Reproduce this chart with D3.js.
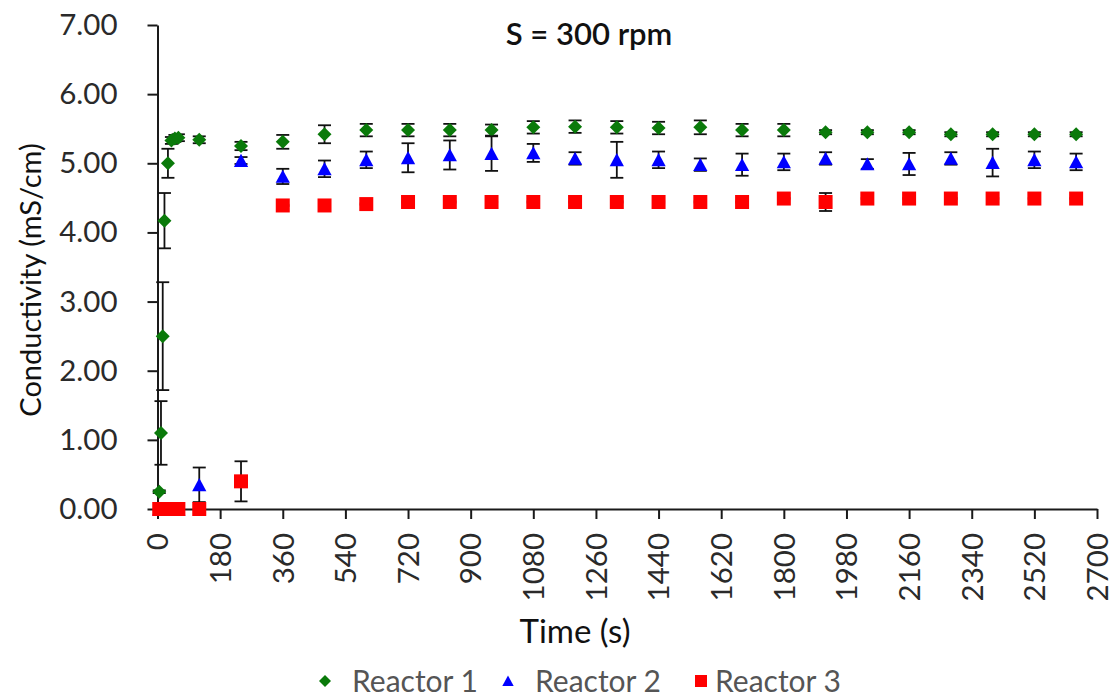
<!DOCTYPE html>
<html>
<head>
<meta charset="utf-8">
<script src="https://cdn.jsdelivr.net/npm/d3@7/dist/d3.min.js"></script>
<style>
  html, body { margin: 0; padding: 0; background: #fff; }
  svg { display: block; font-family: Lato, "Open Sans", sans-serif; }
</style>
</head>
<body>
<svg id="chart" width="1118" height="698"></svg>
<script>
// Sampling times (s)
const times = [5, 10, 15, 20, 30, 40, 50, 60, 120, 240,
  360, 480, 600, 720, 840, 960, 1080, 1200, 1320, 1440,
  1560, 1680, 1800, 1920, 2040, 2160, 2280, 2400, 2520, 2640];

// Conductivity means (mS/cm) and error half-widths per reactor
const reactor1 = [0.25, 1.10, 2.50, 4.17, 5.00, 5.33, 5.36, 5.37, 5.34, 5.25,
  5.31, 5.42, 5.48, 5.48, 5.48, 5.48, 5.52, 5.53, 5.52, 5.51,
  5.52, 5.48, 5.48, 5.45, 5.45, 5.45, 5.42, 5.42, 5.42, 5.42];
const err1 = [0.02, 0.46, 0.78, 0.40, 0.21, 0.05, 0.05, 0.05, 0.05, 0.06,
  0.10, 0.13, 0.09, 0.09, 0.09, 0.08, 0.09, 0.09, 0.09, 0.09,
  0.10, 0.09, 0.09, 0.03, 0.03, 0.03, 0.03, 0.03, 0.03, 0.03];

const reactor2 = [0, 0, 0, 0, 0, 0, 0, 0, 0.35, 5.04,
  4.81, 4.92, 5.05, 5.08, 5.12, 5.14, 5.15, 5.07, 5.05, 5.05,
  4.98, 4.98, 5.02, 5.07, 4.99, 4.99, 5.07, 5.01, 5.05, 5.02];
const err2 = [0, 0, 0, 0, 0, 0, 0, 0, 0.25, 0.05,
  0.11, 0.12, 0.12, 0.21, 0.21, 0.25, 0.13, 0.09, 0.26, 0.12,
  0.09, 0.16, 0.12, 0.09, 0.07, 0.16, 0.09, 0.20, 0.12, 0.12];

const reactor3 = [0, 0, 0, 0, 0, 0, 0, 0, 0, 0.40,
  4.39, 4.39, 4.41, 4.44, 4.44, 4.44, 4.44, 4.44, 4.44, 4.44,
  4.44, 4.44, 4.49, 4.44, 4.49, 4.49, 4.49, 4.49, 4.49, 4.49];
const err3 = [0, 0, 0, 0, 0, 0, 0, 0, 0, 0.29,
  0.01, 0.01, 0.01, 0.01, 0.01, 0.01, 0.01, 0.01, 0.01, 0.01,
  0.01, 0.01, 0.01, 0.13, 0.01, 0.01, 0.01, 0.01, 0.01, 0.01];

const seriesNames = ["Reactor 1", "Reactor 2", "Reactor 3"];
const seriesColors = ["#0a7a0a", "#0000ff", "#ff0000"];
const seriesShapes = ["diamond", "triangle", "square"];

const xTicks = d3.range(0, 2701, 180);
const yTicks = d3.range(0, 7.01, 1);

const svg = d3.select("#chart");

const x = d3.scaleLinear().domain([0, 2700]).range([157.5, 1097]);
const y = d3.scaleLinear().domain([0, 7]).range([509, 25]);

// Marker path generator centred on (cx, cy)
function markerPath(shape, cx, cy, r) {
  const p = d3.path();
  if (shape === "diamond") {
    p.moveTo(cx, cy - r); p.lineTo(cx + r, cy); p.lineTo(cx, cy + r); p.lineTo(cx - r, cy); p.closePath();
  } else if (shape === "triangle") {
    p.moveTo(cx, cy - r * 0.9); p.lineTo(cx + r * 0.95, cy + r * 0.85); p.lineTo(cx - r * 0.95, cy + r * 0.85); p.closePath();
  } else {
    p.rect(cx - r, cy - r, 2 * r, 2 * r);
  }
  return p.toString();
}

// Axes
const yAxis = d3.axisLeft(y).tickValues(yTicks).tickFormat(d3.format(".2f"))
  .tickSize(10).tickSizeOuter(0).tickPadding(30);
const gy = svg.append("g").attr("transform", `translate(${x(0)},0)`).call(yAxis);
gy.selectAll("text").attr("font-size", 29.5).attr("fill", "#2a2a2a").attr("font-family", "Lato, sans-serif");

const xAxis = d3.axisBottom(x).tickValues(xTicks).tickFormat(d3.format("d"))
  .tickSize(10).tickSizeOuter(0);
const gx = svg.append("g").attr("transform", `translate(0,${y(0)})`).call(xAxis);
gx.selectAll("text")
  .attr("font-size", 29.5).attr("fill", "#2a2a2a").attr("font-family", "Lato, sans-serif")
  .attr("transform", "translate(0,24) rotate(-90)")
  .attr("text-anchor", "end").attr("x", 0).attr("y", 0).attr("dy", "0.35em");

[gx, gy].forEach(g => {
  g.selectAll("path.domain").attr("stroke", "#1a1a1a").attr("stroke-width", 2);
  g.selectAll(".tick line").attr("stroke", "#1a1a1a").attr("stroke-width", 2);
});

// Series: error bars then markers
const allValues = [reactor1, reactor2, reactor3];
const allErrors = [err1, err2, err3];
const radii = [7, 7.5, 7];

allValues.forEach((vals, s) => {
  const data = times.map((t, i) => ({ t, v: vals[i], e: allErrors[s][i] }));
  const g = svg.append("g");
  const bars = g.append("g").attr("stroke", "#111").attr("stroke-width", 1.8).attr("fill", "none");
  data.filter(d => d.e > 0).forEach(d => {
    const cx = x(d.t), y0 = y(d.v - d.e), y1 = y(d.v + d.e);
    bars.append("line").attr("x1", cx).attr("x2", cx).attr("y1", y0).attr("y2", y1);
    bars.append("line").attr("x1", cx - 6.5).attr("x2", cx + 6.5).attr("y1", y0).attr("y2", y0);
    bars.append("line").attr("x1", cx - 6.5).attr("x2", cx + 6.5).attr("y1", y1).attr("y2", y1);
  });
  g.append("g").selectAll("path").data(data).join("path")
    .attr("d", d => markerPath(seriesShapes[s], x(d.t), y(d.v), radii[s]))
    .attr("fill", seriesColors[s]);
});

// Title
svg.append("text").attr("x", 589).attr("y", 45).attr("text-anchor", "middle")
  .attr("font-size", 31).attr("font-weight", 600).attr("fill", "#111").text("S = 300 rpm");

// Axis titles
svg.append("text").attr("x", 575).attr("y", 643).attr("text-anchor", "middle")
  .attr("font-size", 33).attr("fill", "#111").text("Time (s)");
svg.append("text").attr("transform", "translate(41,280) rotate(-90)").attr("text-anchor", "middle")
  .attr("font-size", 29).attr("fill", "#111").text("Conductivity (mS/cm)");

// Legend
const legendX = [325, 508, 701];
const legend = svg.append("g");
seriesNames.forEach((name, s) => {
  const cx = legendX[s], cy = 681;
  legend.append("path").attr("d", markerPath(seriesShapes[s], cx, cy, 6)).attr("fill", seriesColors[s]);
  legend.append("text").attr("x", cx + 27 - (s === 2 ? 13 : 0)).attr("y", cy).attr("dy", "0.35em")
    .attr("font-size", 30).attr("fill", "#555").text(name);
});
</script>
</body>
</html>
